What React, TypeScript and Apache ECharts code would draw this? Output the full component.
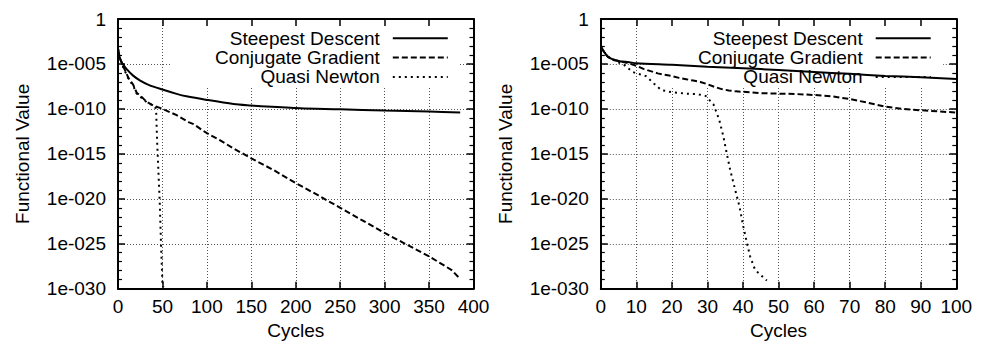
import React, { useEffect, useRef } from 'react';
import * as echarts from 'echarts';

// Values are log10 of the functional value.
// ---- Left panel (0–400 cycles)
const leftSdCycles = [0, 1, 3, 6, 10, 17, 25, 35, 50, 65, 77, 100, 130, 150, 167, 205, 250, 300, 350, 385];
const leftSdLog = [-3.3, -4.0, -4.6, -5.1, -5.6, -6.3, -6.85, -7.35, -7.85, -8.3, -8.6, -9.0, -9.45, -9.62, -9.74, -9.93, -10.04, -10.19, -10.3, -10.4];

const leftCgCycles = [0, 2, 6, 12, 17, 21, 28, 32, 40, 49, 66, 80, 85, 100, 115, 130, 150, 175, 200, 225, 250, 275, 300, 325, 350, 375, 385];
const leftCgLog = [-3.3, -4.3, -5.3, -6.6, -7.3, -8.2, -8.8, -9.2, -9.65, -9.95, -10.7, -11.5, -11.7, -12.7, -13.5, -14.4, -15.5, -16.8, -18.25, -19.6, -21.0, -22.4, -23.8, -25.1, -26.4, -27.9, -28.9];

const leftQnCycles = [0, 2, 6, 12, 17, 21, 28, 33, 38, 42, 43, 44, 45.5, 47, 48.5, 50, 51.5];
const leftQnLog = [-3.3, -4.3, -5.4, -6.7, -7.4, -8.3, -8.9, -9.3, -9.55, -9.8, -10.5, -13.6, -17, -20.5, -25.3, -29.4, -29.8];

// ---- Right panel (0–100 cycles)
const rightSdCycles = [0, 1, 2, 3.3, 5, 8, 10, 20, 30, 40, 50, 60, 70, 80, 90, 100];
const rightSdLog = [-3.1, -3.7, -4.2, -4.48, -4.67, -4.81, -4.92, -5.1, -5.3, -5.48, -5.67, -5.89, -6.1, -6.33, -6.48, -6.67];

const rightCgCycles = [0, 1, 2, 4, 6, 8, 10, 12, 14, 16, 18, 20, 22, 24, 26, 28, 30, 32, 34, 36, 38, 40, 45, 50, 55, 60, 65, 70, 75, 80, 85, 90, 95, 100];
const rightCgLog = [-3.1, -3.7, -4.2, -4.6, -4.75, -4.95, -5.2, -5.55, -5.8, -6.05, -6.2, -6.35, -6.55, -6.7, -6.85, -7.0, -7.25, -7.55, -7.8, -7.95, -8.05, -8.1, -8.25, -8.3, -8.35, -8.45, -8.6, -8.9, -9.3, -9.75, -10.0, -10.15, -10.28, -10.4];

const rightQnCycles = [0, 1, 2, 4.4, 6.5, 9, 10, 12.7, 15, 17, 20, 24, 27, 29.5, 31.7, 33.3, 34.5, 35.4, 36.4, 37.8, 39, 40.1, 41.1, 42, 43.4, 45.3, 46.7];
const rightQnLog = [-3.1, -3.7, -4.2, -4.74, -5.1, -5.9, -6.04, -6.35, -7.2, -7.9, -8.15, -8.3, -8.35, -8.55, -9.5, -11.2, -13.1, -14.9, -16.8, -19, -20.85, -23.1, -24.9, -26.4, -27.9, -28.6, -29.1];

const seriesNames = ['Steepest Descent', 'Conjugate Gradient', 'Quasi Newton'];
const yLog = { min: -30, max: 0, interval: 5 };
const leftX = { min: 0, max: 400, interval: 50 };
const rightX = { min: 0, max: 100, interval: 10 };

const FONT = "'Liberation Sans', Arial, Helvetica, sans-serif";
const FS = 19;

const zip = (xs: number[], ys: number[]) => xs.map((x, i) => [x, ys[i]]);
const yFmt = (v: number) => (v === 0 ? '1' : '1e-' + String(Math.round(Math.abs(v))).padStart(3, '0'));

const grid = { color: '#555', type: [1, 2] as any, width: 1 };
const blackLine = { color: '#000', width: 2 };

function xAxes(gridIndex: number, r: { min: number; max: number; interval: number }) {
  return [
    {
      type: 'value', gridIndex, position: 'bottom', min: r.min, max: r.max, interval: r.interval,
      name: 'Cycles', nameLocation: 'middle', nameGap: 31,
      nameTextStyle: { fontSize: FS, color: '#000', fontFamily: FONT },
      axisLine: { show: true, onZero: false, lineStyle: blackLine },
      axisTick: { show: true, inside: true, length: 7, lineStyle: { color: '#000', width: 1.5 } },
      axisLabel: { fontSize: FS, color: '#000', fontFamily: FONT, margin: 8, showMaxLabel: true, showMinLabel: true },
      splitLine: { show: true, lineStyle: grid },
    },
    {
      type: 'value', gridIndex, position: 'top', min: r.min, max: r.max, interval: r.interval, z: 3,
      axisLine: { show: true, onZero: false, lineStyle: blackLine },
      axisTick: { show: true, inside: true, length: 7, lineStyle: { color: '#000', width: 1.5 } },
      axisLabel: { show: false },
      splitLine: { show: false },
    },
  ];
}

function yAxes(gridIndex: number) {
  return [
    {
      type: 'value', gridIndex, position: 'left', ...yLog,
      name: 'Functional Value', nameLocation: 'middle', nameGap: 86, nameRotate: 90,
      nameTextStyle: { fontSize: FS, color: '#000', fontFamily: FONT },
      axisLine: { show: true, onZero: false, lineStyle: blackLine },
      axisTick: { show: true, inside: true, length: 7, lineStyle: { color: '#000', width: 1.5 } },
      minorTick: { show: true, splitNumber: 5, length: 4, lineStyle: { color: '#000', width: 1.2 } },
      axisLabel: { fontSize: FS, color: '#000', fontFamily: FONT, margin: 12, formatter: yFmt },
      splitLine: { show: true, lineStyle: grid },
    },
    {
      type: 'value', gridIndex, position: 'right', ...yLog, z: 3,
      axisLine: { show: true, onZero: false, lineStyle: blackLine },
      axisTick: { show: true, inside: true, length: 7, lineStyle: { color: '#000', width: 1.5 } },
      minorTick: { show: true, splitNumber: 5, length: 4, lineStyle: { color: '#000', width: 1.2 } },
      axisLabel: { show: false },
      splitLine: { show: false },
    },
  ];
}

const dashTypes: any[] = ['solid', [6, 3], [2, 4]];
const smoothing = [0.3, 0, 0];

function panelSeries(axisIndex: number, sets: number[][][]) {
  return sets.map((data, i) => ({
    name: seriesNames[i],
    type: 'line',
    xAxisIndex: axisIndex,
    yAxisIndex: axisIndex,
    data,
    symbol: 'none',
    showSymbol: false,
    smooth: smoothing[i],
    z: 2,
    lineStyle: { color: '#000', width: 2, type: dashTypes[i] },
    itemStyle: { color: '#000' },
  }));
}

function legendFor(right: number) {
  return {
    orient: 'vertical', align: 'right', right, top: 28.8, padding: 0, itemGap: 0.3,
    itemWidth: 55, itemHeight: 14, data: seriesNames, selectedMode: false,
    itemStyle: { opacity: 0 },
    textStyle: { fontSize: FS, color: '#000', fontFamily: FONT, lineHeight: 19, padding: [0, 8, 0, 0] },
  };
}

export default function App() {
  const ref = useRef<HTMLDivElement>(null);
  useEffect(() => {
    if (!ref.current) return;
    const chart = echarts.init(ref.current, undefined, { renderer: 'svg' });
    chart.setOption({
      animation: false,
      backgroundColor: '#fff',
      grid: [
        { left: 118, top: 19, width: 355.5, height: 269.7 },
        { left: 600.8, top: 19, width: 355.5, height: 269.7 },
      ],
      xAxis: [...xAxes(0, leftX), ...xAxes(1, rightX)],
      yAxis: [...yAxes(0), ...yAxes(1)],
      legend: [legendFor(537.2), legendFor(54.3)],
      graphic: {
        elements: [
          { type: 'rect', z: 1, silent: true, shape: { x: 170, y: 20.5, width: 290, height: 65.5 }, style: { fill: '#fff' } },
          { type: 'rect', z: 1, silent: true, shape: { x: 652, y: 20.5, width: 291, height: 65.5 }, style: { fill: '#fff' } },
        ],
      },
      series: [
        ...panelSeries(0, [zip(leftSdCycles, leftSdLog), zip(leftCgCycles, leftCgLog), zip(leftQnCycles, leftQnLog)]),
        ...panelSeries(2, [zip(rightSdCycles, rightSdLog), zip(rightCgCycles, rightCgLog), zip(rightQnCycles, rightQnLog)]),
      ],
    });
    return () => chart.dispose();
  }, []);
  return <div ref={ref} style={{ position: 'absolute', left: 0, top: 0, width: 986, height: 349, background: '#fff' }} />;
}
